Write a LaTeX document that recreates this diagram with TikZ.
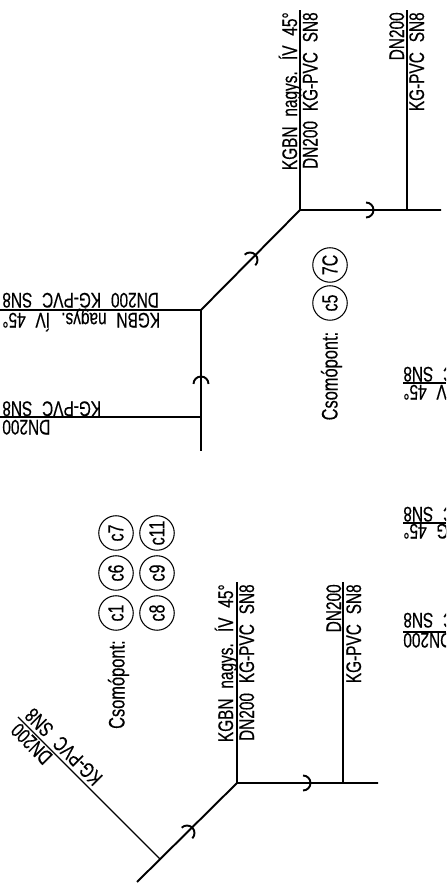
\documentclass[tikz,border=0pt]{standalone}
\usepackage{fontspec}
\setmainfont[FakeStretch=0.73,WordSpace=2.3,FakeBold=0.35]{Liberation Sans}
\tikzstyle{pipe} = [line width=1.1pt]
\tikzstyle{branch} = [line width=.7pt]
\tikzstyle{pipelabel} = [inner sep=0pt, anchor=base east, font=\fontsize{12}{13}\selectfont]
\tikzstyle{caption} = [inner sep=0pt, anchor=base east, rotate=90, font=\fontsize{12.8}{14}\selectfont]
\tikzstyle{jointmark} = [circle, draw, line width=.6pt, minimum size=.69cm, inner sep=0pt, rotate=90, font=\fontsize{12.5}{13}\selectfont]

\begin{document}
\begin{tikzpicture}
\useasboundingbox (0,0) rectangle (8.92,17.76);
\clip (0,0) rectangle (8.92,17.76);

% upper joint
\coordinate (topjoint) at (6,13.56);
\coordinate (toptee) at (8.14,13.56);
\coordinate (topright) at (8.82,13.56);
\coordinate (topstub) at (6,17.56);
\coordinate (topteeend) at (8.14,17.56);
\coordinate (midbend) at (4.02,11.56);
\coordinate (midleft) at (0,11.56);
\coordinate (midtee) at (4.02,9.42);
\coordinate (midteeleft) at (0,9.42);
\coordinate (midend) at (4.02,8.74);
\draw[pipe] (midend)--(midbend)--(topjoint)--(topright);
\draw[branch] (topjoint)--(topstub);
\draw[branch] (toptee)--(topteeend);
\draw[branch] (midbend)--(midleft);
\draw[branch] (midtee)--(midteeleft);

% lower joint
\coordinate (lowjoint) at (4.74,2.1);
\coordinate (lowtee) at (6.86,2.1);
\coordinate (lowright) at (7.56,2.1);
\coordinate (lowstub) at (4.74,6.12);
\coordinate (lowteeend) at (6.86,6.12);
\coordinate (diagend) at (2.74,.12);
\coordinate (diagtee) at (3.2,.58);
\coordinate (diagteeend) at (.36,3.42);
\draw[pipe] (diagend)--(lowjoint)--(lowright);
\draw[branch] (lowjoint)--(lowstub);
\draw[branch] (lowtee)--(lowteeend);
\draw[branch] (diagtee)--(diagteeend);

% sockets
\coordinate (socketa) at (7.32,13.56);
\coordinate (socketb) at (5,12.56);
\coordinate (socketc) at (4.02,10.08);
\coordinate (socketd) at (6.06,2.1);
\coordinate (sockete) at (3.74,1.1);
\draw[pipe] ([shift={(90:.15)}]socketa) arc (90:-90:.15);
\draw[pipe] ([shift={(135:.15)}]socketb) arc (135:-45:.15);
\draw[pipe] ([shift={(180:.15)}]socketc) arc (180:0:.15);
\draw[pipe] ([shift={(90:.15)}]socketd) arc (90:-90:.15);
\draw[pipe] ([shift={(135:.15)}]sockete) arc (135:-45:.15);

% labels along the upper pipes
\node[pipelabel, rotate=90] (topnameb) at (5.94,17.52) {KGBN nagys. ÍV 45°};
\node[pipelabel, rotate=90] (topnamea) at (6.35,17.52) {DN200 KG-PVC SN8};
\node[pipelabel, rotate=90] (teesize) at (8.08,17.52) {DN200};
\node[pipelabel, rotate=90] (teepipe) at (8.48,17.52) {KG-PVC SN8};
\node[pipelabel, rotate=180] (midnamea) at (.04,11.9) {DN200 KG-PVC SN8};
\node[pipelabel, rotate=180] (midnameb) at (.04,11.5) {KGBN nagys. ÍV 45°};
\node[pipelabel, rotate=180] (midteepipe) at (.04,9.73) {KG-PVC SN8};
\node[pipelabel, rotate=180] (midteesize) at (.04,9.36) {DN200};

% labels along the lower pipes
\node[pipelabel, rotate=90] (lownameb) at (4.66,6.08) {KGBN nagys. ÍV 45°};
\node[pipelabel, rotate=90] (lownamea) at (5.08,6.08) {DN200 KG-PVC SN8};
\node[pipelabel, rotate=90] (lowteesize) at (6.82,6.08) {DN200};
\node[pipelabel, rotate=90] (lowteepipe) at (7.22,6.08) {KG-PVC SN8};
\node[pipelabel, rotate=135] (diagpipe) at (.67,3.63) {KG-PVC SN8};
\node[pipelabel, rotate=135] (diagsize) at (.39,3.33) {DN200};

% cut off at the right edge
\coordinate (edgea) at (8.06,10.1);
\coordinate (edgeaend) at (8.92,10.1);
\coordinate (edgeb) at (8.06,7.3);
\coordinate (edgebend) at (8.92,7.3);
\coordinate (edgec) at (8.06,5.12);
\coordinate (edgecend) at (8.92,5.12);
\draw[branch] (edgea)--(edgeaend);
\draw[branch] (edgeb)--(edgebend);
\draw[branch] (edgec)--(edgecend);
\node[pipelabel, rotate=180] (edgeapipe) at (8.06,10.42) {C SN8};
\node[pipelabel, rotate=180] (edgeaname) at (8.06,10.06) {V 45°};
\node[pipelabel, rotate=180] (edgebpipe) at (8.06,7.62) {C SN8};
\node[pipelabel, rotate=180] (edgebname) at (8.06,7.28) {G 45°};
\node[pipelabel, rotate=180] (edgecpipe) at (8.06,5.5) {C SN8};
\node[pipelabel, rotate=180] (edgecsize) at (8.06,5.1) {DN200};

% joint marks
\node[caption] (topcaption) at (6.75,11.13) {Csomópont:};
\node[jointmark] (cfive) at (6.6,11.7) {c5};
\node[jointmark] (sevenc) at (6.6,12.46) {7C};
\node[caption] (lowcaption) at (2.49,4.96) {Csomópont:};
\node[jointmark] (cone) at (2.32,5.5) {c1};
\node[jointmark] (csix) at (2.32,6.3) {c6};
\node[jointmark] (cseven) at (2.32,7.1) {c7};
\node[jointmark] (ceight) at (3.14,5.5) {c8};
\node[jointmark] (cnine) at (3.14,6.3) {c9};
\node[jointmark] (celeven) at (3.14,7.1) {c11};
\end{tikzpicture}
\end{document}
